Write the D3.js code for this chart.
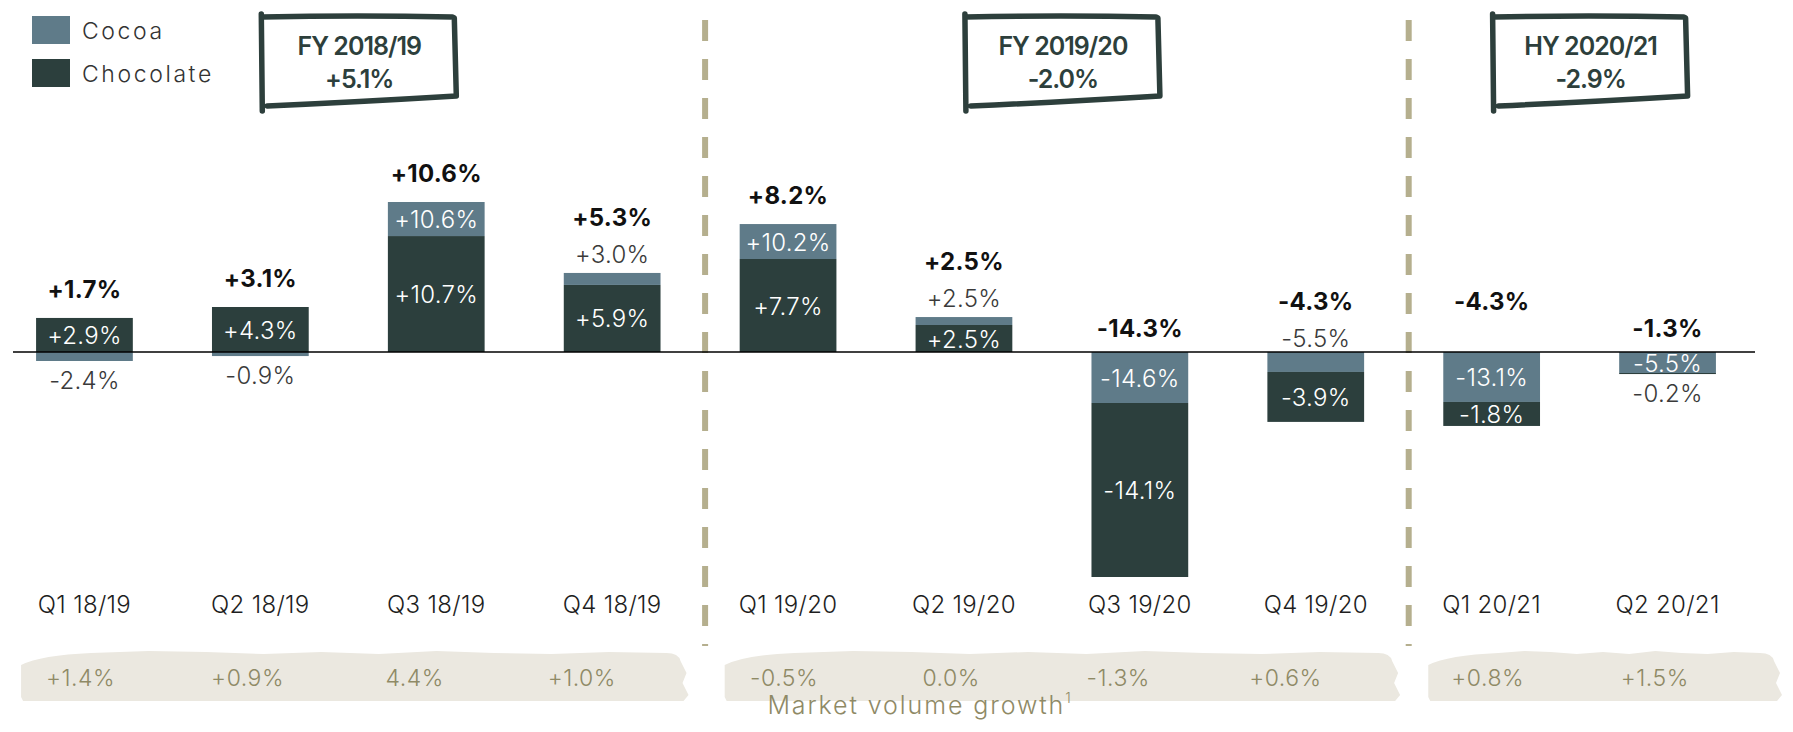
<!DOCTYPE html>
<html>
<head>
<meta charset="utf-8">
<script src="https://cdn.jsdelivr.net/npm/d3@7"></script>
<style>
  body { margin: 0; background: #fff; }
  svg { display: block; font-family: Inter, "Open Sans", sans-serif; }
</style>
</head>
<body>
<div id="chart"></div>
<script>
// quarters shown on the x axis
const quarters = ["Q1 18/19", "Q2 18/19", "Q3 18/19", "Q4 18/19", "Q1 19/20",
                  "Q2 19/20", "Q3 19/20", "Q4 19/20", "Q1 20/21", "Q2 20/21"]

// contribution of each product line to the bar
const cocoaPart = [-0.6, -0.27, 2.27, 0.8, 2.33, 0.53, -3.4, -1.33, -3.33, -1.4]
const chocPart  = [2.27, 3.0, 7.73, 4.47, 6.2, 1.8, -11.6, -3.33, -1.6, -0.07]

// printed labels
const cocoaLabel = ["-2.4%", "-0.9%", "+10.6%", "+3.0%", "+10.2%", "+2.5%", "-14.6%", "-5.5%", "-13.1%", "-5.5%"]
const chocLabel  = ["+2.9%", "+4.3%", "+10.7%", "+5.9%", "+7.7%", "+2.5%", "-14.1%", "-3.9%", "-1.8%", "-0.2%"]
const totalLabel = ["+1.7%", "+3.1%", "+10.6%", "+5.3%", "+8.2%", "+2.5%", "-14.3%", "-4.3%", "-4.3%", "-1.3%"]
const marketLabel = ["+1.4%", "+0.9%", "4.4%", "+1.0%", "-0.5%", "0.0%", "-1.3%", "+0.6%", "+0.8%", "+1.5%"]

// reporting periods
const periodNames  = ["FY 2018/19", "FY 2019/20", "HY 2020/21"]
const periodTotals = ["+5.1%", "-2.0%", "-2.9%"]
const periodSizes  = [4, 4, 2]

const width = 1793, height = 732
const cocoaColor = "#5f7b89", chocColor = "#2c3f3d"
const olive = "#8f8a66", boxColor = "#2d3f3c"

const svg = d3.select("#chart").append("svg")
    .attr("width", width).attr("height", height)

const x = d3.scaleBand().domain(quarters).range([-3.5, 1755.5])
    .paddingInner(0.45).paddingOuter(0.225)
const y = d3.scaleLinear().domain([-15, 12]).range([577, 172])
const bw = x.bandwidth()
const cx = q => x(q) + bw / 2

// period groups (index ranges)
let start = 0
const groups = periodSizes.map((n, i) => {
    const g = {name: periodNames[i], total: periodTotals[i], first: start, last: start + n - 1}
    start += n
    return g
})

// market volume band backgrounds (rough brushed look)
const bandTop = 653, bandBot = 701
groups.forEach((g, gi) => {
    const left = x(quarters[g.first]) - 15
    const right = gi === groups.length - 1 ? width - 13 : x(quarters[g.last]) + bw + (gi === 0 ? 26 : 34)
    const wob = [0, -2, -1, 1, -1, 1, -2, 0, 1, -1]
    const steps = 10
    let p = `M${left},${bandTop + 12}`
    p += ` Q${left + 20},${bandTop + 2} ${left + 70},${bandTop}`
    for (let k = 1; k <= steps; k++) {
        const xx = left + 70 + (right - left - 90) * k / steps
        p += ` L${xx},${bandTop + wob[k % wob.length]}`
    }
    p += ` Q${right - 8},${bandTop} ${right - 6},${bandTop + 8}`
    p += ` L${right},${bandTop + 20} L${right - 4},${bandTop + 30} L${right + 2},${bandBot - 6} L${right - 3},${bandBot}`
    p += ` L${left + 2},${bandBot} L${left},${bandBot - 4} Z`
    svg.append("path").attr("d", p).attr("fill", "#ebe8e0")
})

// market volume values
svg.selectAll(".market").data(quarters).enter().append("text")
    .attr("class", "market")
    .attr("x", (d, i) => {
        const g = groups.find(g => i >= g.first && i <= g.last)
        const c0 = cx(quarters[g.first])
        return c0 + (cx(d) - c0) * 0.95 - 4
    })
    .attr("y", 686)
    .attr("text-anchor", "middle")
    .attr("font-size", 23).attr("font-weight", 300)
    .attr("letter-spacing", 0.5)
    .attr("fill", olive)
    .text((d, i) => marketLabel[i])

const mv = svg.append("text").attr("x", 920).attr("y", 714)
    .attr("text-anchor", "middle").attr("font-size", 25).attr("font-weight", 300)
    .attr("letter-spacing", 1.9).attr("fill", olive)
mv.append("tspan").text("Market volume growth")
mv.append("tspan").attr("font-size", 14).attr("dy", -11).text("1")

// dashed period dividers
for (let gi = 0; gi < groups.length - 1; gi++) {
    const xx = (cx(quarters[groups[gi].last]) + cx(quarters[groups[gi + 1].first])) / 2 + 5
    svg.append("line")
        .attr("x1", xx).attr("x2", xx).attr("y1", 20).attr("y2", 646)
        .attr("stroke", "#b5af8e").attr("stroke-width", 6)
        .attr("stroke-dasharray", "21 18")
}

// stack: positives chocolate first, negatives cocoa first
const segs = []
quarters.forEach((q, i) => {
    let pos = 0, neg = 0
    const parts = [
        {key: "choc", v: chocPart[i], label: chocLabel[i]},
        {key: "cocoa", v: cocoaPart[i], label: cocoaLabel[i]}
    ]
    const ordered = [parts[0], parts[1]].filter(p => p.v >= 0)
        .concat([parts[1], parts[0]].filter(p => p.v < 0))
    ordered.forEach(p => {
        if (p.v >= 0) { p.y0 = pos; p.y1 = pos + p.v; pos += p.v }
        else { p.y0 = neg; p.y1 = neg + p.v; neg += p.v }
        p.q = q; p.i = i
        segs.push(p)
    })
    parts.forEach(p => { p.outer = p.v >= 0 ? p.y1 === pos : p.y1 === neg })
})

svg.selectAll(".seg").data(segs).enter().append("rect")
    .attr("class", "seg")
    .attr("x", d => x(d.q))
    .attr("width", bw)
    .attr("y", d => y(Math.max(d.y0, d.y1)))
    .attr("height", d => Math.abs(y(d.y0) - y(d.y1)))
    .attr("fill", d => d.key === "cocoa" ? cocoaColor : chocColor)

// zero line
svg.append("line").attr("x1", 13).attr("x2", 1755)
    .attr("y1", y(0)).attr("y2", y(0))
    .attr("stroke", "#000").attr("stroke-width", 1.6)

// segment labels
const aboveLabel = {}
segs.forEach(d => {
    const h = Math.abs(y(d.y0) - y(d.y1))
    let yy, fill
    if (h > 20.5) {
        yy = (y(d.y0) + y(d.y1)) / 2 + 9
        fill = "#fff"
    } else {
        fill = "#3a3a3a"
        if (d.v >= 0) {
            yy = y(d.y1) - 10
            aboveLabel[d.i] = yy
        } else if (d.outer) {
            yy = y(d.y1) + 28
        } else {
            yy = y(0) - 5
            aboveLabel[d.i] = yy
        }
    }
    svg.append("text").attr("x", cx(d.q)).attr("y", yy)
        .attr("text-anchor", "middle").attr("font-size", 24).attr("font-weight", 300)
        .attr("letter-spacing", 0.3)
        .attr("fill", fill).text(d.label)
})

// bold totals
const nudge = {8: -27}
quarters.forEach((q, i) => {
    const posTop = d3.sum([chocPart[i], cocoaPart[i]].filter(v => v > 0))
    let yy
    if (aboveLabel[i] !== undefined) yy = aboveLabel[i] - 37
    else if (posTop > 0) yy = y(posTop) - 20
    else yy = y(0) - 15
    yy += nudge[i] || 0
    svg.append("text").attr("x", cx(q)).attr("y", yy)
        .attr("text-anchor", "middle").attr("font-size", 24).attr("font-weight", 700)
        .attr("letter-spacing", 0.3)
        .attr("fill", "#111").text(totalLabel[i])
})

// x axis labels
svg.selectAll(".qlab").data(quarters).enter().append("text")
    .attr("class", "qlab")
    .attr("x", d => cx(d)).attr("y", 613)
    .attr("text-anchor", "middle").attr("font-size", 24).attr("font-weight", 300)
    .attr("letter-spacing", 0.3)
    .attr("fill", "#1e1e1e").text(d => d)

// hand drawn period boxes
groups.forEach(g => {
    const c = (cx(quarters[g.first]) + cx(quarters[g.last])) / 2 + 9
    const w = 192, top = 16, bot = 106
    const L = c - w / 2, R = c + w / 2
    const p = `M${L + 1},${top + 1} Q${c},${top - 1} ${R - 1},${top + 1} L${R + 1},${top + 2}` +
        ` L${R + 3},${bot - 10} Q${c},${bot - 4} ${L + 6},${bot}` +
        ` M${L},${top - 2} L${L + 1},${bot + 5}`
    svg.append("path").attr("d", p).attr("fill", "none")
        .attr("stroke", boxColor).attr("stroke-width", 5.5)
        .attr("stroke-linecap", "round").attr("stroke-linejoin", "round")
    svg.append("text").attr("x", c + 2).attr("y", top + 39)
        .attr("text-anchor", "middle").attr("font-size", 25).attr("font-weight", 600)
        .attr("letter-spacing", -1).attr("fill", boxColor).text(g.name)
    svg.append("text").attr("x", c + 2).attr("y", top + 72)
        .attr("text-anchor", "middle").attr("font-size", 25).attr("font-weight", 600)
        .attr("letter-spacing", -1).attr("fill", boxColor).text(g.total)
})

// legend
const legendItems = [{name: "Cocoa", color: cocoaColor}, {name: "Chocolate", color: chocColor}]
const lg = svg.selectAll(".legend").data(legendItems).enter().append("g")
    .attr("class", "legend")
    .attr("transform", (d, i) => `translate(32, ${16 + i * 43})`)
lg.append("rect").attr("width", 38).attr("height", 28).attr("fill", d => d.color)
lg.append("text").attr("x", 50).attr("y", 23)
    .attr("font-size", 23).attr("font-weight", 300).attr("letter-spacing", 2.6)
    .attr("fill", "#333").text(d => d.name)
</script>
</body>
</html>
